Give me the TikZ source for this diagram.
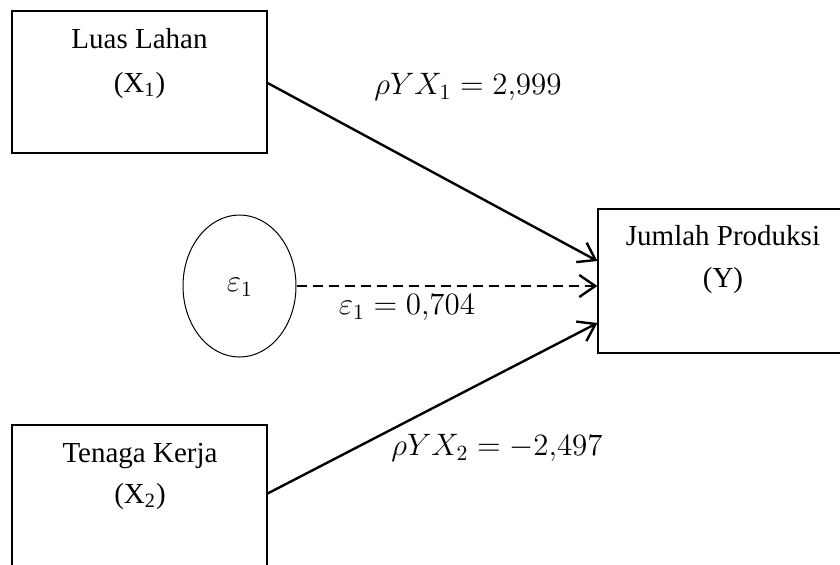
\documentclass[tikz,border=0pt]{standalone}
\usepackage{fix-cm}
\usepackage{fontspec}
\setmainfont{Liberation Serif}
\usetikzlibrary{arrows.meta,shapes.geometric}
\begin{document}
\begin{tikzpicture}[x=0.5pt,y=-0.5pt,
  boxnode/.style={draw,line width=0.6pt,rectangle,inner sep=0pt},
  txt/.style={font=\fontsize{14.5}{17}\selectfont,anchor=base,inner sep=0pt},
  mlabel/.style={font=\fontsize{15.5}{18}\selectfont,inner sep=0pt},
  arr/.style={line width=1.2pt,-{Straight Barb[length=8pt,width=11pt,line width=1.2pt]}},
  darr/.style={arr,dash pattern=on 5pt off 3pt}]
\useasboundingbox (0,0) rectangle (840,564);
% boxes
\node[boxnode,minimum width=127.5pt,minimum height=71pt] (b1) at (139.5,82) {};
\node[boxnode,minimum width=127.5pt,minimum height=72.5pt] (b2) at (139.5,497.5) {};
\node[boxnode,minimum width=123.5pt,minimum height=72pt] (bY) at (721.5,281) {};
\node[draw,ellipse,line width=0.5pt,minimum width=56.5pt,minimum height=71pt,inner sep=0pt] (e) at (239.5,286) {};
% texts
\node[txt] (t1a) at (139.5,48) {Luas Lahan};
\node[txt] (t1b) at (139.5,92) {(X\textsubscript{1})};
\node[txt] (t2a) at (140,462) {Tenaga Kerja};
\node[txt] (t2b) at (140,503) {(X\textsubscript{2})};
\node[txt] (tYa) at (723,245) {Jumlah Produksi};
\node[txt] (tYb) at (723,287) {(Y)};
\node[mlabel] (te) at (240,287) {$\varepsilon_1$};
% connectors
\draw[arr] ([yshift=-0.5pt]b1.east) -- ([yshift=10pt]bY.west);
\draw[darr] (e.east) -- ([yshift=-2.5pt]bY.west);
\draw[arr] ([yshift=2pt]b2.east) -- ([yshift=-21pt]bY.west);
% labels
\node[mlabel] (l1) at (468,87) {$\rho YX_1 = 2{,}999$};
\node[mlabel] (l0) at (407,308) {$\varepsilon_1 = 0{,}704$};
\node[mlabel] (l2) at (497,448) {$\rho YX_2 = -2{,}497$};
\end{tikzpicture}
\end{document}
